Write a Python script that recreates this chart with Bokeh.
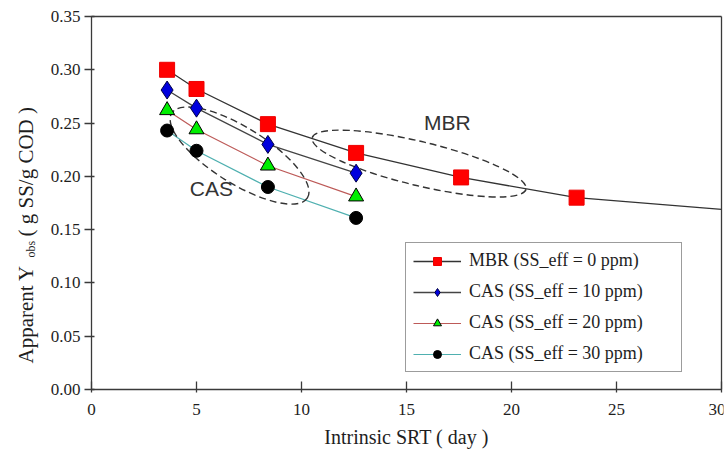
import math
from bokeh.plotting import figure
from bokeh.models import (Label, Legend, LegendItem, FixedTicker, PrintfTickFormatter,
                          Range1d, LinearAxis)
from bokeh.embed import file_html
from bokeh.resources import INLINE

# ---- data ----
srt_mbr = [3.6, 5.0, 8.4, 12.6, 17.6, 23.1]
y_mbr = [0.300, 0.282, 0.249, 0.222, 0.199, 0.180]
curve_mbr_x = [3.6, 5.0, 8.4, 12.6, 17.6, 23.1, 30.0]
curve_mbr_y = [0.300, 0.282, 0.249, 0.222, 0.199, 0.180, 0.169]

srt_cas = [3.6, 5.0, 8.4, 12.6]
y_cas10 = [0.281, 0.264, 0.230, 0.203]
y_cas20 = [0.262, 0.244, 0.210, 0.181]
y_cas30 = [0.243, 0.224, 0.190, 0.161]

x_ticks = [0, 5, 10, 15, 20, 25, 30]
y_ticks = [0.00, 0.05, 0.10, 0.15, 0.20, 0.25, 0.30, 0.35]

legend_labels = ["MBR (SS_eff = 0 ppm)", "CAS (SS_eff = 10 ppm)",
                 "CAS (SS_eff = 20 ppm)", "CAS (SS_eff = 30 ppm)"]

SERIF = "'Liberation Serif', 'Times New Roman', serif"
SANS = "'Liberation Sans', Arial, sans-serif"
AX = "#3a3a3a"
TXT = "#1e1e1e"

# frame covers the whole canvas so that axis titles are not clipped;
# the axes are pinned at x=0 / y=0 (21 px per day, 373 px per 0.35)
PX_X = 21.0
PX_Y = 373.0 / 0.35
p = figure(width=725, height=459, output_backend="svg", toolbar_location=None,
           x_range=Range1d(-91 / PX_X, 30 + 2 / PX_X),
           y_range=Range1d(-70 / PX_Y, 0.35 + 16 / PX_Y),
           min_border_left=0, min_border_right=2, min_border_top=0, min_border_bottom=0)
p.grid.visible = False
p.outline_line_color = None
p.background_fill_color = "white"
p.border_fill_color = "white"

xa = p.xaxis[0]
ya = p.yaxis[0]
for ax in (xa, ya):
    ax.axis_line_color = AX
    ax.axis_line_width = 1.3
    ax.major_tick_line_color = AX
    ax.major_tick_line_width = 1.3
    ax.minor_tick_line_color = None
    ax.major_label_text_font = SERIF
    ax.major_label_text_font_size = "17px"
    ax.major_label_text_color = TXT

xa.fixed_location = 0
xa.bounds = (0, 30)
xa.ticker = FixedTicker(ticks=x_ticks)
xa.major_tick_in = 8
xa.major_tick_out = 3
xa.major_label_standoff = 11
xa.axis_label = "Intrinsic SRT ( day )"
xa.axis_label_text_font = SERIF
xa.axis_label_text_font_size = "20px"
xa.axis_label_text_font_style = "normal"
xa.axis_label_text_color = TXT
xa.axis_label_standoff = 8

ya.fixed_location = 0
ya.bounds = (0, 0.35)
ya.ticker = FixedTicker(ticks=y_ticks)
ya.formatter = PrintfTickFormatter(format="%.2f")
ya.major_tick_in = 3
ya.major_tick_out = 7
ya.major_label_standoff = 4

# top and right frame lines
top_ax = LinearAxis(fixed_location=0.35, bounds=(0, 30), ticker=FixedTicker(ticks=[]),
                    axis_line_color=AX, axis_line_width=1.3, major_label_text_font_size="0px",
                    minor_tick_line_color=None, major_tick_line_color=None)
right_ax = LinearAxis(fixed_location=30, bounds=(0, 0.35), ticker=FixedTicker(ticks=[]),
                      axis_line_color=AX, axis_line_width=1.3, major_label_text_font_size="0px",
                      minor_tick_line_color=None, major_tick_line_color=None)
p.add_layout(top_ax, "above")
p.add_layout(right_ax, "right")

# curves
l_mbr = p.line(curve_mbr_x, curve_mbr_y, line_color="#333333", line_width=1.3)
l_c10 = p.line(srt_cas, y_cas10, line_color="#444444", line_width=1.3)
l_c20 = p.line(srt_cas, y_cas20, line_color="#bd5a58", line_width=1.2)
l_c30 = p.line(srt_cas, y_cas30, line_color="#4fb0b0", line_width=1.2)

# dashed ellipses grouping the data
p.ellipse(x=[7.05], y=[0.2195], width=[160], height=[56], angle=[-math.radians(32)],
          width_units="screen", height_units="screen", fill_color=None,
          line_color="#333333", line_dash="7 4", line_width=1.4)
p.ellipse(x=[15.6], y=[0.212], width=[220], height=[44], angle=[-math.radians(13.5)],
          width_units="screen", height_units="screen", fill_color=None,
          line_color="#333333", line_dash="7 4", line_width=1.4)

# markers
m_mbr = p.scatter(srt_mbr, y_mbr, marker="square", size=15, fill_color="#ff0000", line_color="#ee0000")
m_c10 = p.scatter(srt_cas, y_cas10, marker="diamond", size=18, fill_color="#0000dd", line_color="#000044")
m_c20 = p.scatter(srt_cas, y_cas20, marker="triangle", size=15, fill_color="#00ee00", line_color="#000000")
m_c30 = p.scatter(srt_cas, y_cas30, marker="circle", size=13, fill_color="#000000", line_color="#000000")

p.add_layout(Label(x=16.95, y=0.2505, text="MBR", text_font=SANS, text_font_size="21px",
                   text_color="#333333", text_align="center", text_baseline="middle"))
p.add_layout(Label(x=5.71, y=0.1885, text="CAS", text_font=SANS, text_font_size="21px",
                   text_color="#333333", text_align="center", text_baseline="middle"))

# y axis title with subscript
ang = math.pi / 2
p.add_layout(Label(x=-66 / PX_X, y=26 / PX_Y, angle=ang,
                   text="Apparent Y", text_font=SERIF, text_font_size="21px",
                   text_color=TXT, text_align="left", text_baseline="middle"))
p.add_layout(Label(x=-61 / PX_X, y=132 / PX_Y, angle=ang,
                   text="obs", text_font=SERIF, text_font_size="12px",
                   text_color=TXT, text_align="left", text_baseline="middle"))
p.add_layout(Label(x=-66 / PX_X, y=153 / PX_Y, angle=ang,
                   text="( g SS/g COD )", text_font=SERIF, text_font_size="21px",
                   text_color=TXT, text_align="left", text_baseline="middle"))

legend = Legend(items=[
    LegendItem(label=legend_labels[0], renderers=[l_mbr, m_mbr]),
    LegendItem(label=legend_labels[1], renderers=[l_c10, m_c10]),
    LegendItem(label=legend_labels[2], renderers=[l_c20, m_c20]),
    LegendItem(label=legend_labels[3], renderers=[l_c30, m_c30]),
], location=(405, 87))
legend.label_text_font = SERIF
legend.label_text_font_size = "18px"
legend.label_text_color = TXT
legend.border_line_color = AX
legend.border_line_width = 1.2
legend.glyph_width = 48
legend.glyph_height = 20
legend.label_height = 20
legend.spacing = 10
legend.padding = 7
legend.margin = 0
legend.label_standoff = 8
legend.label_width = 205
legend.background_fill_alpha = 1
p.add_layout(legend, "center")

open("out.html", "w").write(file_html(p, INLINE))
